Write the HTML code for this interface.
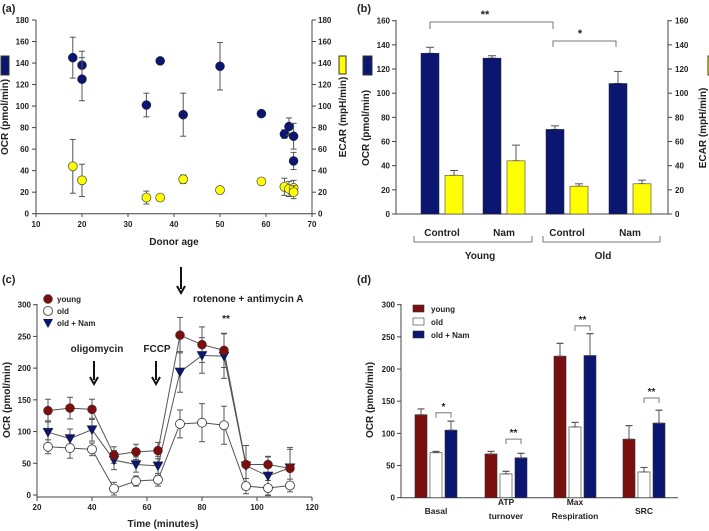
<!DOCTYPE html>
<html><head><meta charset="utf-8"><style>
body{margin:0;background:#fff;}
svg{display:block;font-family:"Liberation Sans",sans-serif;font-weight:bold;}
</style></head><body>
<svg id="s" width="709" height="531" viewBox="0 0 709 531"></svg>
<script>
// ---------- Panel A data ----------
const aAgeBlue=[18,20,20,34,37,42,50,59,64,65,66,66];
const aOCR=[145,138,125,101,142,92,137,93,74,81,72,49];
const aOCRerr=[19,13,20,11,0,20,22,0,4,8,12,8];
const aAgeYel=[18,20,34,37,42,50,59,64,65,66,66];
const aECAR=[44,31,15,15,32,22,30,25,23,24,20];
const aECARerr=[25,15,6,0,4,2,0,8,7,7,6];
const aXTicks=[10,20,30,40,50,60,70];
const aYTicks=[0,20,40,60,80,100,120,140,160,180];
// ---------- Panel B data ----------
const bGroups=["Control","Nam","Control","Nam"];
const bOCR=[133,129,70,108];
const bOCRerr=[5,2,3,10];
const bECAR=[32,44,23,25];
const bECARerr=[4,13,2,3];
const bYTicks=[0,20,40,60,80,100,120,140,160];
// ---------- Panel C data ----------
const cTime=[24,32,40,48,56,64,72,80,88,96,104,112];
const cYoung=[133,137,135,63,68,70,252,237,228,48,48,42];
const cYoungErr=[18,17,16,13,12,13,28,28,27,30,13,30];
const cOld=[76,74,72,10,22,24,112,114,110,14,11,15];
const cOldErr=[11,16,10,10,8,10,22,30,30,12,12,10];
const cNam=[99,89,103,55,48,46,194,220,219,46,30,43];
const cNamErr=[18,15,18,15,12,15,32,28,35,32,30,32];
const cXTicks=[20,40,60,80,100,120];
const cYTicks=[0,50,100,150,200,250,300];
// ---------- Panel D data ----------
const dCats=[["Basal"],["ATP","turnover"],["Max","Respiration"],["SRC"]];
const dYoung=[129,68,220,91];
const dYoungErr=[9,4,20,21];
const dOld=[70,37,110,40];
const dOldErr=[2,4,7,7];
const dNam=[105,62,221,116];
const dNamErr=[14,7,34,20];
const dYTicks=[0,50,100,150,200,250,300];

const S=document.getElementById('s');
const NS='http://www.w3.org/2000/svg';
function mk(tag,at,parent){const e=document.createElementNS(NS,tag);for(const k in at)e.setAttribute(k,at[k]);(parent||S).appendChild(e);return e;}
function txt(x,y,s,size,anchor,extra){const e=mk('text',Object.assign({x:x,y:y,'font-size':size,'text-anchor':anchor||'middle',fill:'#222'},extra||{}));e.textContent=s;return e;}
function line(x1,y1,x2,y2,c,w){return mk('line',{x1:x1,y1:y1,x2:x2,y2:y2,stroke:c||'#444','stroke-width':w||1});}
function errbar(x,y1,y2,cap){const g=mk('g',{});mk('line',{x1:x,y1:y1,x2:x,y2:y2,stroke:'#555','stroke-width':1},g);mk('line',{x1:x-cap,y1:y1,x2:x+cap,y2:y1,stroke:'#555','stroke-width':1},g);mk('line',{x1:x-cap,y1:y2,x2:x+cap,y2:y2,stroke:'#555','stroke-width':1},g);return g;}

// ================= Panel A =================
const ax=v=>36+(v-10)/60*276, ay=v=>213.7-v/180*193.7;
let t=txt(2,12,'(a)',11,'start');


line(36,20,36,214);line(312,20,312,214);line(36,213.7,312,213.7);
aYTicks.forEach(v=>{line(32,ay(v),36,ay(v));line(312,ay(v),316,ay(v));
 let l=txt(29,ay(v)+3,String(v),8,'end');
 
 
 let r=txt(318,ay(v)+3,String(v),8,'start');
 
 });
aXTicks.forEach(v=>{line(ax(v),213.7,ax(v),217);
 let l=txt(ax(v),227,String(v),8);
 
 });
t=txt(174,245,'Donor age',10);


t=txt(0,0,'OCR (pmol/min)',10,'middle',{transform:'translate(8,117) rotate(-90)'});


t=txt(0,0,'ECAR (mpH/min)',10,'middle',{transform:'translate(346,117) rotate(-90)'});


let b=mk('rect',{x:1,y:56,width:8,height:19,fill:'#0b1670',stroke:'#333'});


b=mk('rect',{x:339,y:56,width:7,height:18,fill:'#ffff00',stroke:'#333'});


aAgeBlue.forEach((a,i)=>{if(aOCRerr[i])errbar(ax(a),ay(aOCR[i]+aOCRerr[i]),ay(aOCR[i]-aOCRerr[i]),3);
 const c=mk('circle',{cx:ax(a),cy:ay(aOCR[i]),r:4.5,fill:'#0b1670',stroke:'#222','stroke-width':0.5});
 
 });
aAgeYel.forEach((a,i)=>{if(aECARerr[i])errbar(ax(a),ay(aECAR[i]+aECARerr[i]),ay(aECAR[i]-aECARerr[i]),3);
 const c=mk('circle',{cx:ax(a),cy:ay(aECAR[i]),r:4.5,fill:'#ffff00',stroke:'#444','stroke-width':0.7});
 
 });

// ================= Panel B =================
const by=v=>214-v/160*193.3;
const bBlueX=[421,483,546,609], bW=18, bOff=24;
t=txt(357,12,'(b)',11,'start');


line(396,20,396,214);line(668,20,668,214);line(396,214,668,214);
bYTicks.forEach(v=>{line(392,by(v),396,by(v));line(668,by(v),672,by(v));
 let l=txt(390,by(v)+3,String(v),8,'end');
 
 
 let r=txt(675,by(v)+3,String(v),8,'start');
 
 });
bGroups.forEach((g,i)=>{
 errbar(bBlueX[i]+bW/2,by(bOCR[i]+bOCRerr[i]),by(bOCR[i]),4);
 let r=mk('rect',{x:bBlueX[i],y:by(bOCR[i]),width:bW,height:214-by(bOCR[i]),fill:'#0b1670',stroke:'#222','stroke-width':0.5});
 
 
 errbar(bBlueX[i]+bOff+bW/2,by(bECAR[i]+bECARerr[i]),by(bECAR[i]),4);
 r=mk('rect',{x:bBlueX[i]+bOff,y:by(bECAR[i]),width:bW,height:214-by(bECAR[i]),fill:'#ffff00',stroke:'#444','stroke-width':0.6});
 
 
 let l=txt(bBlueX[i]+21,236,g,10);
 
 });
mk('path',{d:'M414,236 V242 H532 V236 M543,236 V242 H660 V236',fill:'none',stroke:'#777'});
t=txt(480,259,'Young',10);


t=txt(603,259,'Old',10);


mk('path',{d:'M430,29 V22 H553 V29 M553,47 V41 H616 V47',fill:'none',stroke:'#777'});
t=txt(485,18,'**',11);


t=txt(580,37,'*',11);


b=mk('rect',{x:363,y:56,width:9,height:19,fill:'#0b1670',stroke:'#333'});


b=mk('rect',{x:708,y:56,width:6,height:19,fill:'#ffff00',stroke:'#333'});


t=txt(0,0,'OCR (pmol/min)',10,'middle',{transform:'translate(369,128) rotate(-90)'});


t=txt(0,0,'ECAR (mpH/min)',10,'middle',{transform:'translate(706,128) rotate(-90)'});



// ================= Panel C =================
const cx=v=>37+(v-20)/100*275, cy=v=>495-v/300*190.3;
t=txt(2,283,'(c)',11,'start');


line(37,304,37,497);line(37,497,312,497);
cYTicks.forEach(v=>{line(33,cy(v),37,cy(v));
 let l=txt(31,cy(v)+3,String(v),8,'end');
 
 });
cXTicks.forEach(v=>{line(cx(v),497,cx(v),501);
 let l=txt(cx(v),510,String(v),8);
 
 });
t=txt(163,527,'Time (minutes)',10);


t=txt(0,0,'OCR (pmol/min)',10,'middle',{transform:'translate(10,400) rotate(-90)'});


function series(vals,errs){
 const p=vals.map((v,i)=>cx(cTime[i])+','+cy(v)).join(' ');
 const pl=mk('polyline',{points:p,fill:'none',stroke:'#555','stroke-width':1});
 vals.forEach((v,i)=>errbar(cx(cTime[i]),cy(v+errs[i]),cy(v-errs[i]),3));
 return pl;}
let pl=series(cOld,cOldErr);


pl=series(cNam,cNamErr);


pl=series(cYoung,cYoungErr);


cOld.forEach((v,i)=>{const c=mk('circle',{cx:cx(cTime[i]),cy:cy(v),r:4.5,fill:'#fff',stroke:'#333','stroke-width':0.8});
 
 });
cNam.forEach((v,i)=>{const x=cx(cTime[i]),y=cy(v);const c=mk('path',{d:`M${x-5},${y-4} H${x+5} L${x},${y+5} Z`,fill:'#0b1670',stroke:'#222','stroke-width':0.5});
 
 });
cYoung.forEach((v,i)=>{const c=mk('circle',{cx:cx(cTime[i]),cy:cy(v),r:4.5,fill:'#7a0f10',stroke:'#333','stroke-width':0.5});
 
 });
// legend
let lc=mk('circle',{cx:48,cy:299,r:4.5,fill:'#7a0f10',stroke:'#333','stroke-width':0.5});


lc=mk('circle',{cx:48,cy:311,r:4.5,fill:'#fff',stroke:'#333','stroke-width':0.8});


lc=mk('path',{d:'M43,319 H53 L48,328 Z',fill:'#0b1670'});


t=txt(57,302,'young',8,'start');


t=txt(57,314,'old',8,'start');


t=txt(57,326,'old + Nam',8,'start');


function arrow(x,y1,y2){const g=mk('g',{});mk('line',{x1:x,y1:y1,x2:x,y2:y2-4,stroke:'#111','stroke-width':2},g);mk('path',{d:`M${x-4},${y2-7} L${x},${y2} L${x+4},${y2-7}`,fill:'none',stroke:'#111','stroke-width':2},g);return g;}
let ar=arrow(94,361,384);


ar=arrow(156,361,384);


ar=arrow(181,267,293);


t=txt(97,352,'oligomycin',10);


t=txt(157,352,'FCCP',10);


t=txt(193,302,'rotenone + antimycin A',10,'start');


t=txt(226,322,'**',10);



// ================= Panel D =================
const dy=v=>497.7-v/300*193;
const dGroupX=[415,485,554,623], dW=12, dStep=15;
t=txt(357,283,'(d)',11,'start');


line(401,304,401,498);line(401,497.7,678,497.7);
dYTicks.forEach(v=>{line(397,dy(v),401,dy(v));
 let l=txt(395,dy(v)+3,String(v),8,'end');
 
 });
t=txt(0,0,'OCR (pmol/min)',10,'middle',{transform:'translate(373,400) rotate(-90)'});


const dSeries=[[dYoung,dYoungErr,'#7a0f10'],[dOld,dOldErr,'#fff'],[dNam,dNamErr,'#0b1670']];
const dSig=['*','**','**','**'];
dCats.forEach((c,i)=>{
 dSeries.forEach((s,j)=>{const x=dGroupX[i]+j*dStep,v=s[0][i];
  errbar(x+dW/2,dy(v+s[1][i]),dy(v-s[1][i]),3.5);
  const r=mk('rect',{x:x,y:dy(v),width:dW,height:497.7-dy(v),fill:s[2],stroke:'#333','stroke-width':0.6});
  
  
  errbar(x+dW/2,dy(v+s[1][i]),dy(v),3.5);});
 const cxm=dGroupX[i]+21;
 c.forEach((w,k)=>{const l=txt(cxm,(c.length>1?505:514)+k*14,w,8.5);
  
  });
 const top=Math.max(dOld[i]+dOldErr[i],dNam[i]+dNamErr[i]);
 let yb=dy(Math.max(top,dYoung[i]*0)+ (i==0?13:i==1?22:i==2?12:19));
 if(i==2) yb=dy(top+12);
 const x1=dGroupX[i]+dStep+dW/2,x2=dGroupX[i]+2*dStep+dW/2;
 mk('path',{d:`M${x1},${yb+5} V${yb} H${x2} V${yb+5}`,fill:'none',stroke:'#777'});
 const st=txt((x1+x2)/2,yb-3,dSig[i],10);
 
 });
const dLeg=[['young','#7a0f10'],['old','#fff'],['old + Nam','#0b1670']];
dLeg.forEach((l,i)=>{const r=mk('rect',{x:413,y:305+i*13,width:11,height:7,fill:l[1],stroke:'#333','stroke-width':0.6});
 
 
 const tt=txt(431,312+i*13,l[0],8,'start');
 
 });
</script>
</body></html>
